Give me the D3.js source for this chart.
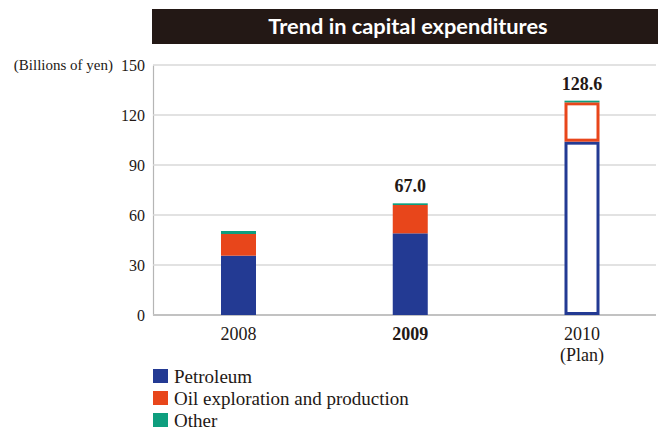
<!DOCTYPE html>
<html>
<head>
<meta charset="utf-8">
<script src="https://cdn.jsdelivr.net/npm/d3@7"></script>
<style>
  html, body { margin: 0; padding: 0; background: #fff; }
  svg { display: block; }
</style>
</head>
<body>
<svg id="chart" width="658" height="431"></svg>
<script>
// Capital expenditure by segment (billions of yen)
const categories = ["2008", "2009", "2010"];
const categorySub = ["", "", "(Plan)"];
const petroleum = [35.6, 49.0, 104.0];
const oilExploration = [13.0, 17.0, 23.6];
const other = [1.8, 1.0, 1.0];
const totalLabels = [null, 67.0, 128.6];
const planned = [false, false, true];
const yTicks = [0, 30, 60, 90, 120, 150];
const seriesNames = ["Petroleum", "Oil exploration and production", "Other"];
const seriesColors = ["#233a93", "#e8461b", "#0e9e7e"];

const svg = d3.select("#chart");
const serif = "'Liberation Serif', 'DejaVu Serif', serif";

const plotLeft = 153, plotRight = 656;
const y = d3.scaleLinear().domain([0, 150]).range([315, 65]);
const x = d3.scalePoint().domain(categories).range([238.5, 582]);
const barW = 35;

// Title banner
svg.append("rect").attr("x", 152).attr("y", 9).attr("width", 658 - 152).attr("height", 35)
  .attr("fill", "#231815");
svg.append("text").attr("x", 408).attr("y", 33.5).attr("text-anchor", "middle")
  .attr("fill", "#fff").attr("font-family", "Lato, 'Open Sans', sans-serif")
  .attr("font-weight", "bold").attr("font-size", 21.8).text("Trend in capital expenditures");

// Vertical axis with labels
const yAxis = d3.axisLeft(y).tickValues(yTicks).tickSize(0).tickPadding(8);
const gy = svg.append("g").attr("transform", `translate(${plotLeft},0)`).call(yAxis);
gy.select(".domain").attr("stroke", "#b5b5b5").attr("stroke-width", 1.2);
gy.selectAll(".tick text").attr("font-family", serif).attr("font-size", 16).attr("fill", "#231815")
  .attr("dy", "0.36em");

// Horizontal grid
svg.append("g").selectAll("line").data(yTicks).join("line")
  .attr("x1", plotLeft).attr("x2", plotRight)
  .attr("y1", d => y(d)).attr("y2", d => y(d))
  .attr("stroke", d => d === 0 ? "#c2c2c2" : "#d9d9d9")
  .attr("stroke-width", d => d === 0 ? 2 : 1.5);

svg.append("text").attr("x", 113).attr("y", y(150)).attr("dy", "0.36em")
  .attr("text-anchor", "end").attr("font-family", serif).attr("font-size", 15)
  .attr("fill", "#231815").text("(Billions of yen)");

// Stacked segments; planned year drawn as outlines
const rows = categories.map((c, i) => ({ cat: c, petroleum: petroleum[i], oil: oilExploration[i], other: other[i], plan: planned[i] }));
const stack = d3.stack().keys(["petroleum", "oil", "other"]);
const layers = stack(rows);

layers.forEach((layer, li) => {
  const color = seriesColors[li];
  layer.forEach((seg, i) => {
    const cx = x(categories[i]);
    const y0 = y(seg[0]), y1 = y(seg[1]);
    const outlined = rows[i].plan && li < 2;
    if (outlined) {
      const sw = 3;
      svg.append("rect")
        .attr("x", cx - barW / 2 + sw / 2).attr("width", barW - sw)
        .attr("y", y1 + sw / 2).attr("height", Math.max(0, y0 - y1 - sw))
        .attr("fill", "#fff").attr("stroke", color).attr("stroke-width", sw);
    } else {
      svg.append("rect")
        .attr("x", cx - barW / 2).attr("width", barW)
        .attr("y", y1).attr("height", y0 - y1)
        .attr("fill", color);
    }
  });
});

// Totals
svg.append("g").selectAll("text").data(categories.map((c, i) => ({ c, v: totalLabels[i] })).filter(d => d.v !== null))
  .join("text")
  .attr("x", d => x(d.c)).attr("y", d => y(d.v) - 11)
  .attr("text-anchor", "middle").attr("font-family", serif).attr("font-weight", "bold")
  .attr("font-size", 18).attr("fill", "#231815")
  .text(d => d.v.toFixed(1));

// Category labels
const gx = svg.append("g");
categories.forEach((c, i) => {
  gx.append("text").attr("x", x(c)).attr("y", 340).attr("text-anchor", "middle")
    .attr("font-family", serif).attr("font-size", 18).attr("fill", "#231815")
    .attr("font-weight", c === "2009" ? "bold" : "normal").text(c);
  if (categorySub[i]) {
    gx.append("text").attr("x", x(c)).attr("y", 361).attr("text-anchor", "middle")
      .attr("font-family", serif).attr("font-size", 18).attr("fill", "#231815").text(categorySub[i]);
  }
});

// Legend
const lg = svg.append("g").selectAll("g").data(seriesNames).join("g")
  .attr("transform", (d, i) => `translate(153, ${369 + i * 22})`);
lg.append("rect").attr("width", 15).attr("height", 14).attr("fill", (d, i) => seriesColors[i]);
lg.append("text").attr("x", 21).attr("y", 7).attr("dy", "0.36em")
  .attr("font-family", serif).attr("font-size", 19).attr("fill", "#231815").text(d => d);
</script>
</body>
</html>
